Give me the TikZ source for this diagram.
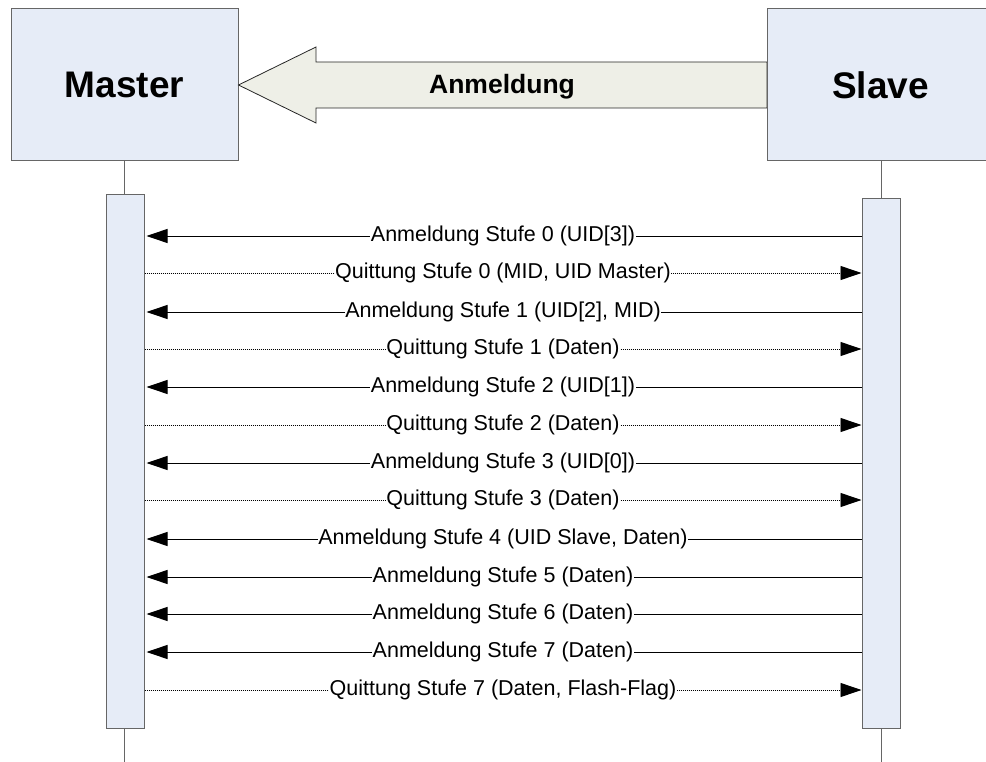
\documentclass[tikz,border=0pt]{standalone}
\usepackage{fontspec}
\setmainfont{Liberation Sans}
\usepackage{xcolor}
\usetikzlibrary{arrows.meta, positioning}

\definecolor{boxfill}{HTML}{E6ECF7}
\definecolor{boxline}{HTML}{666666}
\definecolor{bigfill}{HTML}{EEEFE7}

\begin{document}
\begin{tikzpicture}[x=1pt, y=-1pt, >={Triangle[length=21pt, width=14pt]},
    party/.style={rectangle, draw=boxline, fill=boxfill, line width=1pt, minimum width=227pt, minimum height=152pt, inner sep=0pt, font=\bfseries\fontsize{37}{40}\selectfont},
    bar/.style={rectangle, draw=boxline, fill=boxfill, line width=1pt, minimum width=38pt, inner sep=0pt},
    life/.style={draw=boxline, line width=1pt},
    anm/.style={->, line width=0.9pt, shorten >=2pt},
    quit/.style={->, line width=0.9pt, dash pattern=on 1pt off 1pt},
    msg/.style={fill=white, inner sep=0.5pt, font=\fontsize{21.5}{24}\selectfont}]
    \useasboundingbox (0,0) rectangle (986,762);

    \node[party] (master) at (124.5,85) {Master};

    % big arrow from slave to master
    \draw[fill=bigfill, draw=black!85, line width=0.8pt]
        (master.east) -- (316,47) -- (316,62) -- (767,62) -- (767,108) -- (316,108) -- (316,123) -- cycle;
    \node[font=\bfseries\fontsize{26.5}{30}\selectfont] (login) at (502,87) {Anmeldung};

    \node[party, anchor=west] (slave) at (767,85) {\hspace*{-1pt}Slave};

    % lifelines
    \coordinate (mend) at (124,762);
    \coordinate (send) at (881,762);
    \draw[life] (master.south -| mend) -- (mend);
    \draw[life] (slave.south -| send) -- (send);

    \node[bar, minimum height=533pt] (mbar) at (125,461.5) {};
    \node[bar, minimum height=529pt] (sbar) at (881,463.5) {};

    % messages
    \draw[anm] (sbar.west |- 0,236) -- node[msg] {Anmeldung Stufe 0 (UID[3])} (mbar.east |- 0,236);
    \draw[quit] (mbar.east |- 0,273) -- node[msg] {Quittung Stufe 0 (MID, UID Master)} (sbar.west |- 0,273);
    \draw[anm] (sbar.west |- 0,312) -- node[msg] {Anmeldung Stufe 1 (UID[2], MID)} (mbar.east |- 0,312);
    \draw[quit] (mbar.east |- 0,349) -- node[msg] {Quittung Stufe 1 (Daten)} (sbar.west |- 0,349);
    \draw[anm] (sbar.west |- 0,387) -- node[msg] {Anmeldung Stufe 2 (UID[1])} (mbar.east |- 0,387);
    \draw[quit] (mbar.east |- 0,425) -- node[msg] {Quittung Stufe 2 (Daten)} (sbar.west |- 0,425);
    \draw[anm] (sbar.west |- 0,463) -- node[msg] {Anmeldung Stufe 3 (UID[0])} (mbar.east |- 0,463);
    \draw[quit] (mbar.east |- 0,500) -- node[msg] {Quittung Stufe 3 (Daten)} (sbar.west |- 0,500);
    \draw[anm] (sbar.west |- 0,539) -- node[msg] {Anmeldung Stufe 4 (UID Slave, Daten)} (mbar.east |- 0,539);
    \draw[anm] (sbar.west |- 0,577) -- node[msg] {Anmeldung Stufe 5 (Daten)} (mbar.east |- 0,577);
    \draw[anm] (sbar.west |- 0,614) -- node[msg] {Anmeldung Stufe 6 (Daten)} (mbar.east |- 0,614);
    \draw[anm] (sbar.west |- 0,652) -- node[msg] {Anmeldung Stufe 7 (Daten)} (mbar.east |- 0,652);
    \draw[quit] (mbar.east |- 0,690) -- node[msg] {Quittung Stufe 7 (Daten, Flash-Flag)} (sbar.west |- 0,690);
\end{tikzpicture}
\end{document}
